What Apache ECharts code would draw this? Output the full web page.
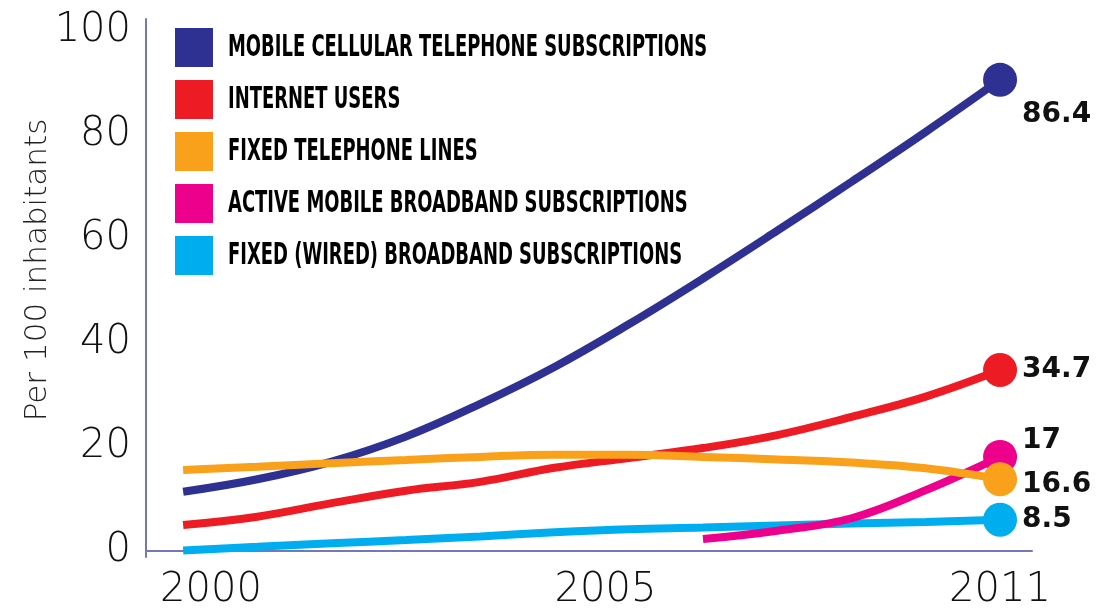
<!DOCTYPE html>
<html>
<head>
<meta charset="utf-8">
<script src="https://cdn.jsdelivr.net/npm/echarts@6/dist/echarts.min.js"></script>
<style>
html,body{margin:0;padding:0;background:#fff;}
#chart{width:1098px;height:611px;}
</style>
</head>
<body>
<div id="chart"></div>
<script>
// ---- data ----
var years = [2000, 2001, 2002, 2003, 2004, 2005, 2006, 2007, 2008, 2009, 2010, 2011];
var mobileCellular = [11.4, 13.8, 17.2, 22.0, 28.3, 35.4, 43.6, 52.4, 61.6, 71.0, 80.6, 90.6];
var internetUsers = [5.0, 6.6, 9.2, 11.6, 13.3, 16.0, 17.9, 19.8, 22.3, 25.8, 29.7, 34.8];
var fixedTelephone = [15.6, 16.2, 16.9, 17.5, 18.1, 18.5, 18.5, 18.1, 17.6, 17.0, 15.9, 13.8];
var mobileBBYears = [2007, 2008, 2009, 2010, 2011];
var mobileBroadband = [2.3, 3.9, 6.3, 11.7, 18.1];
var fixedBroadband = [0.1, 0.8, 1.5, 2.1, 2.8, 3.6, 4.2, 4.5, 4.9, 5.3, 5.6, 6.0];
var seriesNames = [
  'MOBILE CELLULAR TELEPHONE SUBSCRIPTIONS',
  'INTERNET USERS',
  'FIXED TELEPHONE LINES',
  'ACTIVE MOBILE BROADBAND SUBSCRIPTIONS',
  'FIXED (WIRED) BROADBAND SUBSCRIPTIONS'
];
var endLabels = ['86.4', '34.7', '16.6', '17', '8.5'];
var xTickLabels = ['2000', '2005', '2011'];
var yTickValues = [0, 20, 40, 60, 80, 100];
var yAxisTitle = 'Per 100 inhabitants';

// ---- styles ----
var colors = ['#2E3192', '#ED1C24', '#F9A11B', '#EC008C', '#00AEEF'];
var labelDy = [35, 0, 5, -16, 0];
var axisColor = '#7478BA';
var numFont = '"DejaVu Sans", Lato, sans-serif';
var legendLeft = 175, legendTop = 28, legendIconW = 38, legendIconH = 39, legendGap = 13;
var legendTextX = 228, legendFontSize = 30, legendScaleX = 0.665;

function buildData(xs, ys, idx) {
  return ys.map(function (v, i) {
    var item = { value: [xs[i], v] };
    if (i === ys.length - 1) {
      item.symbol = 'circle';
      item.symbolSize = 34;
      item.label = {
        show: true,
        position: 'right',
        distance: 5,
        offset: [0, labelDy[idx]],
        formatter: endLabels[idx],
        color: '#111',
        fontFamily: '"DejaVu Sans", sans-serif',
        fontWeight: 'bold',
        fontSize: 28
      };
    }
    return item;
  });
}

function makeSeries(idx, xs, ys) {
  return {
    name: seriesNames[idx],
    type: 'line',
    xAxisIndex: 0,
    yAxisIndex: 0,
    smooth: 0.4,
    showAllSymbol: true,
    symbol: 'circle',
    symbolSize: 0,
    color: colors[idx],
    itemStyle: { color: colors[idx] },
    lineStyle: { color: colors[idx], width: 8, cap: 'butt' },
    label: { show: false },
    data: buildData(xs, ys, idx)
  };
}

// legend text (condensed look through horizontal scaling)
var legendTexts = seriesNames.map(function (name, i) {
  return {
    type: 'text',
    x: legendTextX,
    y: legendTop + legendIconH / 2 + i * (legendIconH + legendGap) + 1,
    scaleX: legendScaleX,
    silent: true,
    style: {
      text: name,
      fill: '#000',
      fontFamily: '"DejaVu Sans Condensed", "DejaVu Sans", sans-serif',
      fontWeight: 'bold',
      fontSize: legendFontSize,
      verticalAlign: 'middle',
      align: 'left'
    }
  };
});

var chart = echarts.init(document.getElementById('chart'), null, { renderer: 'canvas' });
chart.setOption({
  animation: false,
  backgroundColor: '#fff',
  grid: [
    { left: 146, right: 66, top: 19, bottom: 54 },
    { left: 211, right: 98, top: 19, bottom: 54 }
  ],
  legend: {
    orient: 'vertical',
    left: legendLeft,
    top: legendTop,
    padding: 0,
    icon: 'rect',
    itemWidth: legendIconW,
    itemHeight: legendIconH,
    itemGap: legendGap,
    data: seriesNames,
    selectedMode: false,
    formatter: function () { return ''; },
    itemStyle: { borderWidth: 0 },
    lineStyle: { width: 0 },
    textStyle: { fontSize: 1 }
  },
  graphic: legendTexts,
  xAxis: [
    {
      type: 'value',
      gridIndex: 0,
      min: 1999.5,
      max: 2011.43,
      axisLine: { show: true, lineStyle: { color: axisColor, width: 2 } },
      axisTick: { show: false },
      axisLabel: { show: false },
      splitLine: { show: false }
    },
    {
      type: 'category',
      gridIndex: 1,
      data: xTickLabels,
      boundaryGap: false,
      axisLine: { show: false },
      axisTick: { show: false },
      splitLine: { show: false },
      axisLabel: {
        show: true,
        margin: 16,
        color: '#111',
        fontFamily: numFont,
        fontWeight: 200,
        fontSize: 40
      }
    }
  ],
  yAxis: [
    {
      type: 'value',
      gridIndex: 0,
      min: -1.15,
      max: 102.3,
      name: yAxisTitle,
      nameLocation: 'middle',
      nameRotate: 90,
      nameGap: 93,
      nameMoveOverlap: false,
      nameTextStyle: {
        color: '#222',
        fontFamily: numFont,
        fontWeight: 200,
        fontSize: 31,
        padding: [0, 0, 0, 36]
      },
      axisLine: { show: true, lineStyle: { color: axisColor, width: 2 } },
      axisTick: { show: false },
      splitLine: { show: false },
      axisLabel: {
        show: true,
        customValues: yTickValues,
        margin: 15,
        color: '#111',
        fontFamily: numFont,
        fontWeight: 200,
        fontSize: 40
      }
    },
    {
      type: 'value',
      gridIndex: 1,
      show: false
    }
  ],
  series: [
    makeSeries(0, years, mobileCellular),
    makeSeries(1, years, internetUsers),
    makeSeries(4, years, fixedBroadband),
    makeSeries(3, mobileBBYears, mobileBroadband),
    makeSeries(2, years, fixedTelephone)
  ]
});
</script>
</body>
</html>
